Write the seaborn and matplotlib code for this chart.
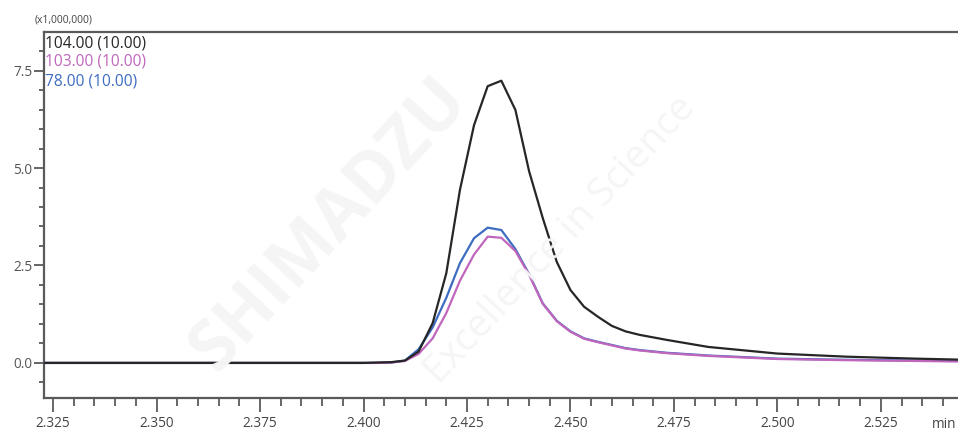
import matplotlib
matplotlib.use("Agg")
import matplotlib.pyplot as plt
from matplotlib.ticker import MultipleLocator, FixedLocator
import numpy as np
import pandas as pd
import seaborn as sns

# Retention time (min) and intensities (x1,000,000) for the three mass chromatograms
time_min = [2.3000, 2.3967, 2.4000, 2.4033, 2.4067, 2.4100, 2.4133, 2.4167,
            2.4200, 2.4233, 2.4267, 2.4300, 2.4333, 2.4367, 2.4400, 2.4433,
            2.4467, 2.4500, 2.4533, 2.4567, 2.4600, 2.4633, 2.4667, 2.4733,
            2.4833, 2.5000, 2.5167, 2.5333, 2.5500]
mz104 = [0.00, 0.00, 0.00, 0.01, 0.02, 0.06, 0.29, 1.02,
         2.30, 4.44, 6.10, 7.10, 7.24, 6.49, 4.92, 3.72,
         2.59, 1.87, 1.44, 1.18, 0.95, 0.81, 0.72, 0.59,
         0.41, 0.24, 0.16, 0.11, 0.07]
mz103 = [0.00, 0.00, 0.00, 0.00, 0.01, 0.05, 0.23, 0.63,
         1.28, 2.11, 2.78, 3.24, 3.21, 2.87, 2.26, 1.52,
         1.07, 0.80, 0.62, 0.53, 0.45, 0.37, 0.32, 0.25,
         0.18, 0.10, 0.07, 0.05, 0.03]
mz78 = [0.00, 0.00, 0.00, 0.00, 0.01, 0.06, 0.35, 0.91,
        1.67, 2.56, 3.20, 3.47, 3.41, 2.92, 2.28, 1.53,
        1.08, 0.81, 0.63, 0.54, 0.46, 0.38, 0.33, 0.26,
        0.19, 0.11, 0.08, 0.06, 0.04]

trace_labels = ["104.00 (10.00)", "103.00 (10.00)", "78.00 (10.00)"]
trace_colors = ["#262626", "#c066bc", "#3d6cc0"]

sns.set_theme(style="white")
plt.rcParams["font.family"] = ["Open Sans", "DejaVu Sans"]

fig = plt.figure(figsize=(9.58, 4.33), dpi=100)
ax = fig.add_axes([44 / 958, 1 - 398 / 433, 1 - 44 / 958 + 0.002, (398 - 32) / 433])

# faint background watermark
fig.text(330 / 958, 1 - 225 / 433, "SHIMADZU", fontsize=50, rotation=47,
         color="#f5f5f5", fontweight="bold", ha="center", va="center", zorder=0)
fig.text(560 / 958, 1 - 240 / 433, "Excellence in Science", fontsize=28,
         rotation=47, color="#f5f5f5", ha="center", va="center", zorder=0)
ax.patch.set_alpha(0)

frame = pd.DataFrame({"time": time_min, trace_labels[0]: mz104,
                      trace_labels[1]: mz103, trace_labels[2]: mz78})
draw_order = [2, 1, 0]
for i in draw_order:
    sns.lineplot(data=frame, x="time", y=trace_labels[i], color=trace_colors[i],
                 linewidth=1.6, ax=ax, legend=False, zorder=3 + (2 - i))

ax.set_xlim(2.3228, 2.5441)
ax.set_ylim(-0.90, 8.49)
ax.set_xlabel("")
ax.set_ylabel("")

ax.xaxis.set_major_locator(FixedLocator([2.325, 2.350, 2.375, 2.400, 2.425,
                                         2.450, 2.475, 2.500, 2.525]))
ax.xaxis.set_minor_locator(MultipleLocator(0.005))
ax.yaxis.set_major_locator(FixedLocator([0.0, 2.5, 5.0, 7.5]))
ax.yaxis.set_minor_locator(MultipleLocator(0.5))
ax.set_xticklabels(["2.325", "2.350", "2.375", "2.400", "2.425",
                    "2.450", "2.475", "2.500", "2.525"])
ax.set_yticklabels(["0.0", "2.5", "5.0", "7.5"])

spine_col = "#5a5a5a"
ax.tick_params(axis="x", which="major", direction="out", length=10, width=1.3,
               color=spine_col, labelsize=9.8, labelcolor="#444444", pad=3,
               bottom=True)
ax.tick_params(axis="x", which="minor", direction="out", length=5.5, width=1.3,
               color=spine_col, bottom=True)
ax.tick_params(axis="y", which="major", direction="out", length=7, width=1.3,
               color=spine_col, labelsize=9.8, labelcolor="#555555", pad=1.5,
               left=True)
ax.tick_params(axis="y", which="minor", direction="out", length=3.5, width=1.3,
               color=spine_col, left=True)

for side in ["left", "top", "bottom"]:
    ax.spines[side].set_visible(True)
    ax.spines[side].set_color(spine_col)
    ax.spines[side].set_linewidth(1.6)
ax.spines["right"].set_visible(False)

# trace legend in the upper-left corner
for k, (lab, col) in enumerate(zip(trace_labels, trace_colors)):
    ax.text(45 / 958, 1 - (43 + 19 * k) / 433, lab, transform=fig.transFigure,
            color=col, fontsize=11.2, ha="left", va="center")

fig.text(35 / 958, 1 - 20 / 433, "(x1,000,000)", fontsize=7.5,
         color="#444444", ha="left", va="center")
fig.text(932 / 958, 1 - 425 / 433, "min", fontsize=9.8,
         color="#444444", ha="left", va="center")

fig.savefig("out.png", dpi=100)
